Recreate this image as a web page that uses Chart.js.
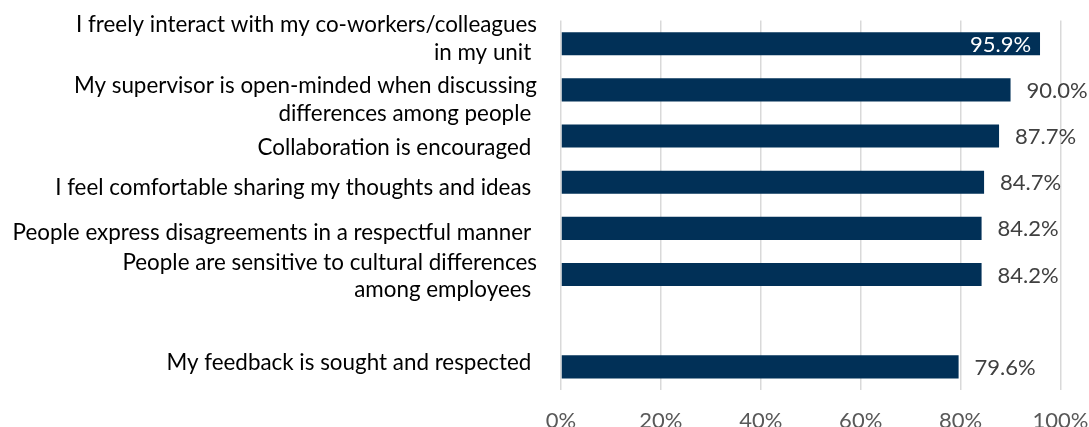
<!DOCTYPE html>
<html>
<head>
<meta charset="utf-8">
<script src="https://cdn.jsdelivr.net/npm/chart.js@4/dist/chart.umd.min.js"></script>
<style>
  html, body { margin: 0; padding: 0; background: #ffffff; }
  #wrap { width: 1089px; height: 427px; }
</style>
</head>
<body>
<div id="wrap"><canvas id="chart" width="1089" height="427"></canvas></div>
<script>
// Survey statements (one entry per row, wrapped lines as drawn)
const statements = [
  ["I freely interact with my co-workers/colleagues", "in my unit "],
  ["My supervisor is open-minded when discussing", "differences among people "],
  ["Collaboration is encouraged "],
  ["I feel comfortable sharing my thoughts and ideas "],
  ["People express disagreements in a respectful manner "],
  ["People are sensitive to cultural differences", "among employees "],
  [""],
  ["My feedback is sought and respected "]
];

// Share of respondents who agree, in percent
const agreePct = [95.9, 90.0, 87.7, 84.7, 84.2, 84.2, null, 79.6];

// Value axis ticks, in percent
const axisTicks = [0, 20, 40, 60, 80, 100];

// Styling: baseline of each statement's first line relative to its bar centre
const labelBaseline = [-11.2, 3.3, 19, 12.5, 11.4, -4.6, 0, 3];

const FONT_FAMILY = 'Lato, "Open Sans", "Liberation Sans", sans-serif';
const LABEL_SIZE = 22.4;
const VALUE_SIZE = 22;
const LINE_STEP = 27.5;
const BAR_COLOR = '#013057';

// Statement text to the left of the plot, placed from the category scale
const statementLabels = {
  id: 'statementLabels',
  afterDraw(chart) {
    const { ctx, chartArea, scales } = chart;
    const yScale = scales.y;
    ctx.save();
    ctx.font = LABEL_SIZE + 'px ' + FONT_FAMILY;
    ctx.fillStyle = '#000000';
    ctx.textAlign = 'right';
    ctx.textBaseline = 'alphabetic';
    statements.forEach((lines, i) => {
      const base = yScale.getPixelForValue(i) + labelBaseline[i];
      lines.forEach((text, k) => {
        ctx.fillText(text, chartArea.left - 24, base + k * LINE_STEP);
      });
    });
    ctx.restore();
  }
};

// Percent labels at the end of each bar; moved inside when they would not fit
const valueLabels = {
  id: 'valueLabels',
  afterDatasetsDraw(chart) {
    const { ctx } = chart;
    const meta = chart.getDatasetMeta(0);
    ctx.save();
    ctx.font = VALUE_SIZE + 'px ' + FONT_FAMILY;
    ctx.textBaseline = 'middle';
    meta.data.forEach((bar, i) => {
      const v = agreePct[i];
      if (v === null || v === undefined) return;
      const text = v.toFixed(1) + '%';
      const w = ctx.measureText(text).width;
      if (bar.x + 16 + w > chart.width) {
        ctx.fillStyle = '#ffffff';
        ctx.textAlign = 'right';
        ctx.fillText(text, bar.x - 9, bar.y + 1);
      } else {
        ctx.fillStyle = '#404040';
        ctx.textAlign = 'left';
        ctx.fillText(text, bar.x + 16, bar.y + 1);
      }
    });
    ctx.restore();
  }
};

function draw() {
  new Chart(document.getElementById('chart'), {
    type: 'bar',
    data: {
      labels: statements.map(lines => lines.join(' ').trim()),
      datasets: [{
        data: agreePct,
        backgroundColor: BAR_COLOR,
        borderWidth: 0,
        barPercentage: 0.5,
        categoryPercentage: 1.0
      }]
    },
    options: {
      indexAxis: 'y',
      responsive: false,
      animation: false,
      devicePixelRatio: 1,
      layout: { padding: { left: 561, right: 28.5, top: 20.6, bottom: 0 } },
      scales: {
        x: {
          min: 0,
          max: 100,
          afterBuildTicks: scale => { scale.ticks = axisTicks.map(v => ({ value: v })); },
          afterFit: scale => {
            scale.height = 37;
            scale.paddingLeft = 0;
            scale.paddingRight = 0;
          },
          ticks: {
            callback: v => v + '%',
            color: '#595959',
            font: { family: FONT_FAMILY, size: VALUE_SIZE },
            padding: 18,
            maxRotation: 0
          },
          grid: { color: '#d9d9d9', lineWidth: 1.5, drawTicks: false },
          border: { display: false }
        },
        y: {
          display: false
        }
      },
      plugins: {
        legend: { display: false },
        tooltip: { enabled: false }
      }
    },
    plugins: [valueLabels, statementLabels]
  });
}

if (document.fonts && document.fonts.load) {
  document.fonts.load(LABEL_SIZE + 'px Lato').then(draw, draw);
} else {
  draw();
}
</script>
</body>
</html>
